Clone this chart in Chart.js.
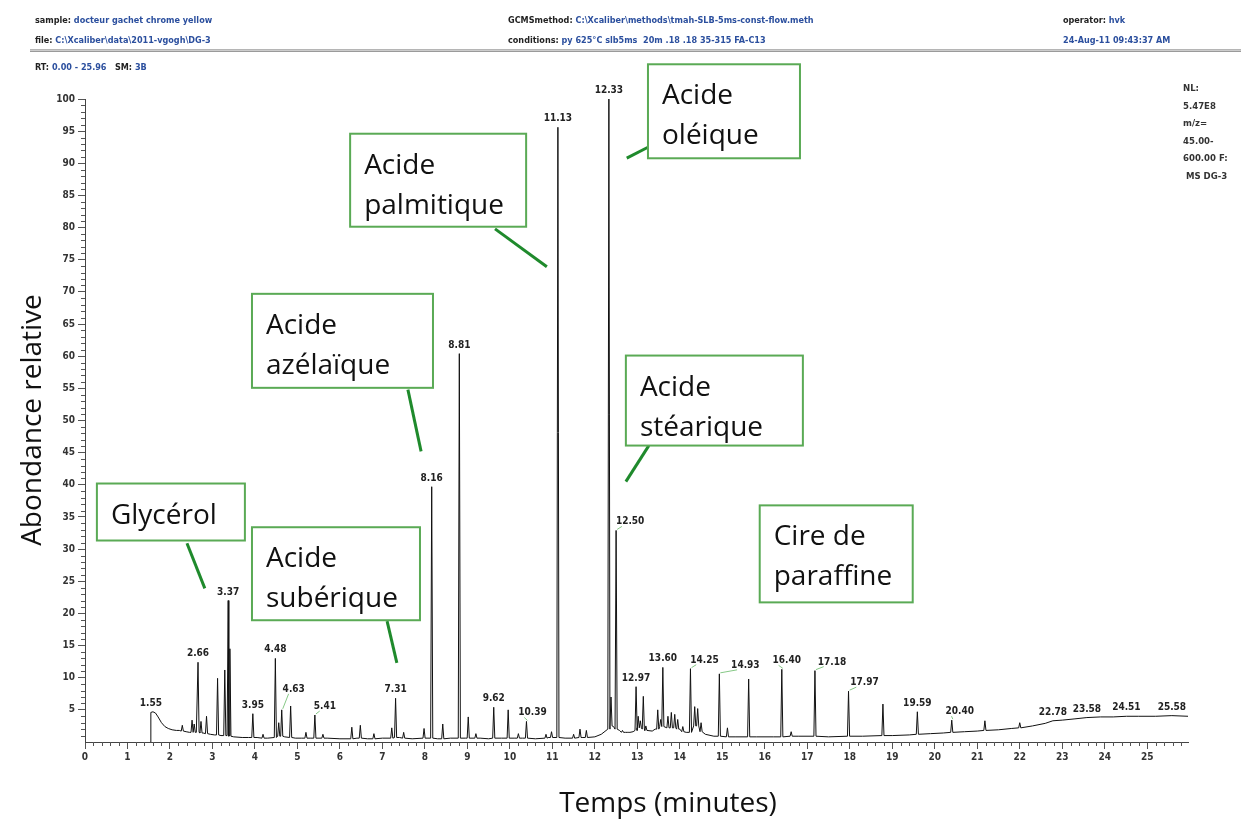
<!DOCTYPE html>
<html>
<head>
<meta charset="utf-8">
<script src="https://cdn.jsdelivr.net/npm/chart.js@4/dist/chart.umd.min.js"></script>
<style>
  html, body { margin: 0; padding: 0; background: #fff; }
  #wrap { position: relative; width: 1241px; height: 826px; overflow: hidden; }
  #chart { position: absolute; left: 0; top: 0; }
  .hd { position: absolute; font: bold 9px "DejaVu Sans Condensed", "DejaVu Sans", sans-serif; color: #222; white-space: pre; line-height: 11px; }
  .hd span { color: #2b4f9e; }
  #rule { position: absolute; left: 30px; top: 49px; width: 1211px; height: 1px; border-top: 1px solid #b5b5b5; border-bottom: 1px solid #9a9a9a; background: #ccc; }
  #nl { position: absolute; left: 1183px; top: 79px; font: bold 9.5px "DejaVu Sans Condensed", "DejaVu Sans", sans-serif; color: #333; line-height: 17.5px; white-space: pre; }
</style>
</head>
<body>
<div id="wrap">
  <canvas id="chart" width="1241" height="826"></canvas>
  <div class="hd" style="left:35px;top:15px">sample: <span>docteur gachet chrome yellow</span></div>
  <div class="hd" style="left:35px;top:35px">file: <span>C:\Xcaliber\data\2011-vgogh\DG-3</span></div>
  <div class="hd" style="left:508px;top:15px">GCMSmethod: <span>C:\Xcaliber\methods\tmah-SLB-5ms-const-flow.meth</span></div>
  <div class="hd" style="left:508px;top:35px">conditions: <span>py 625°C slb5ms  20m .18 .18 35-315 FA-C13</span></div>
  <div class="hd" style="left:1063px;top:15px">operator: <span>hvk</span></div>
  <div class="hd" style="left:1063px;top:35px"><span>24-Aug-11 09:43:37 AM</span></div>
  <div id="rule"></div>
  <div class="hd" style="left:35px;top:62px">RT: <span>0.00 - 25.96</span>   SM: <span>3B</span></div>
  <div id="nl">NL:
5.47E8
m/z=
45.00-
600.00 F:
 MS DG-3</div>
</div>
<script>
// baseline of the trace (minutes, % abundance)
const baseRT = [1.545, 1.55, 1.60, 1.66, 1.72, 1.80, 1.88, 1.96, 2.05, 2.15,
  2.22, 2.38, 2.46, 2.62, 2.78, 2.95, 3.05, 3.20, 3.50, 3.70,
  3.85, 4.05, 4.30, 4.70, 4.95, 5.10, 5.30, 5.70, 6.00, 6.40,
  6.65, 7.00, 7.40, 7.70, 8.05, 8.30, 8.60, 8.95, 9.30, 9.50,
  9.80, 10.10, 10.30, 10.60, 10.90, 11.30, 11.70, 12.00, 12.15, 12.44,
  12.58, 12.72, 12.90, 13.35, 13.42, 14.00, 14.15, 14.60, 14.80, 15.30,
  15.80, 16.20, 16.80, 17.50, 18.30, 19.00, 19.40, 19.90, 20.20, 20.70,
  21.00, 21.50, 21.80, 22.30, 22.60, 22.78, 23.00, 23.30, 23.58, 23.90,
  24.20, 24.51, 24.80, 25.20, 25.58, 25.96];
const baseLevel = [0.0, 4.6, 4.7, 4.5, 3.9, 3.0, 2.4, 2.1, 1.9, 1.8,
  1.8, 1.6, 1.5, 1.5, 1.4, 1.2, 1.1, 1.0, 0.8, 0.7,
  0.7, 0.7, 0.6, 0.8, 0.6, 0.6, 0.6, 0.6, 0.5, 0.6,
  0.5, 0.6, 0.7, 0.5, 0.6, 0.5, 0.6, 0.6, 0.6, 0.5,
  0.6, 0.6, 0.6, 0.5, 0.7, 0.6, 0.7, 0.8, 1.2, 2.4,
  1.8, 1.5, 1.6, 1.7, 2.0, 2.0, 1.5, 1.2, 0.9, 0.8,
  0.8, 0.8, 0.9, 0.8, 0.9, 1.0, 1.1, 1.3, 1.4, 1.6,
  1.7, 1.9, 2.1, 2.5, 2.9, 3.3, 3.4, 3.6, 3.8, 3.9,
  3.9, 4.0, 4.0, 4.0, 4.1, 4.0];

// peaks: retention time, apex, local baseline under the peak
const peakRT = [2.29, 2.52, 2.57, 2.66, 2.73, 2.86, 3.12, 3.29, 3.37, 3.41,
  3.95, 4.19, 4.48, 4.56, 4.63, 4.84, 5.20, 5.41, 5.60, 6.28,
  6.48, 6.80, 7.22, 7.31, 7.50, 7.98, 8.16, 8.42, 8.81, 9.02,
  9.20, 9.62, 9.96, 10.20, 10.39, 10.85, 10.98, 11.13, 11.50, 11.65,
  11.80, 12.33, 12.38, 12.50, 12.65, 12.80, 12.97, 13.02, 13.07, 13.14,
  13.20, 13.48, 13.55, 13.60, 13.72, 13.80, 13.88, 13.95, 14.07, 14.25,
  14.35, 14.42, 14.50, 14.93, 15.12, 15.62, 16.40, 16.62, 17.18, 17.97,
  18.78, 19.59, 20.40, 21.18, 22.00];
const peakTop = [2.6, 3.4, 2.8, 12.4, 3.2, 4.0, 9.9, 11.2, 22.0, 14.5,
  4.4, 1.2, 13.0, 3.0, 5.0, 5.6, 1.5, 4.2, 1.2, 2.3,
  2.6, 1.3, 2.2, 6.8, 1.5, 2.1, 39.7, 2.8, 60.4, 3.9,
  1.3, 5.4, 5.0, 1.3, 3.2, 1.2, 1.6, 95.6, 1.2, 2.0,
  1.8, 100.0, 7.0, 32.9, 1.8, 1.5, 8.6, 4.0, 3.3, 7.1,
  2.5, 5.0, 3.5, 11.6, 4.0, 4.6, 4.3, 3.5, 2.4, 11.4,
  5.5, 5.2, 3.0, 10.6, 2.2, 9.8, 11.3, 1.6, 11.1, 7.9,
  5.9, 4.7, 3.4, 3.3, 3.0];
const peakFoot = [1.7, 1.5, 1.5, 1.5, 1.4, 1.3, 1.1, 1.0, 1.0, 0.9,
  0.7, 0.6, 0.7, 0.9, 0.9, 0.7, 0.6, 0.6, 0.6, 0.5,
  0.6, 0.5, 0.6, 0.7, 0.6, 0.6, 0.6, 0.5, 0.6, 0.6,
  0.6, 0.6, 0.6, 0.6, 0.6, 0.6, 0.7, 0.7, 0.6, 0.7,
  0.7, 2.0, 2.5, 2.0, 1.5, 1.5, 1.8, 2.2, 2.2, 2.0,
  1.8, 2.0, 2.4, 2.4, 2.2, 2.2, 2.2, 2.0, 1.6, 1.5,
  2.5, 2.5, 1.6, 0.9, 0.8, 0.8, 0.8, 0.9, 0.9, 0.9,
  1.0, 1.2, 1.5, 1.8, 2.2];

// retention times printed over the trace
const peakLabels = ['1.55', '2.66', '3.37', '3.95', '4.48', '4.63', '5.41', '7.31', '8.16', '8.81',
  '9.62', '10.39', '11.13', '12.33', '12.50', '12.97', '13.60', '14.25', '14.93', '16.40',
  '17.18', '17.97', '19.59', '20.40', '22.78', '23.58', '24.51', '25.58'];

const xTicks = [0, 1, 2, 3, 4, 5, 6, 7, 8, 9, 10, 11, 12, 13, 14, 15, 16, 17, 18, 19, 20, 21, 22, 23, 24, 25];
const yTicks = [5, 10, 15, 20, 25, 30, 35, 40, 45, 50, 55, 60, 65, 70, 75, 80, 85, 90, 95, 100];

// label nudges (px) for the labels that sit beside their peak with a leader
const labelShift = {
  '4.63': [12, -12], '5.41': [10, 0], '10.39': [6, 0], '12.50': [14, 0], '14.25': [14, 0],
  '14.93': [26, 0], '16.40': [5, 0], '17.18': [17, 0], '17.97': [16, 0], '20.40': [8, 0]
};

// green call-outs, anchored in data units (box: left/top, size in px)
const notes = [
  { lines: ['Glycérol'], at: [0.28, 40.2], w: 148, h: 57, ptr: [2.40, 30.9, 2.82, 23.9] },
  { lines: ['Acide', 'subérique'], at: [3.93, 33.4], w: 168, h: 93, ptr: [7.11, 18.8, 7.34, 12.3] },
  { lines: ['Acide', 'azélaïque'], at: [3.93, 69.7], w: 181, h: 94, ptr: [7.60, 54.8, 7.91, 45.2] },
  { lines: ['Acide', 'palmitique'], at: [6.24, 94.6], w: 176, h: 93, ptr: [9.65, 79.8, 10.87, 73.9] },
  { lines: ['Acide', 'oléique'], at: [13.25, 105.4], w: 152, h: 94, ptr: [13.25, 92.5, 12.75, 90.8] },
  { lines: ['Acide', 'stéarique'], at: [12.73, 60.1], w: 177, h: 90, ptr: [13.27, 46.1, 12.73, 40.5] },
  { lines: ['Cire de', 'paraffine'], at: [15.88, 36.8], w: 153, h: 97, ptr: null }
];

const trace = baseRT.map((t, i) => ({ x: t, y: baseLevel[i] }));
peakRT.forEach((t, i) => {
  trace.push({ x: t - 0.025, y: peakFoot[i] }, { x: t, y: peakTop[i] }, { x: t + 0.025, y: peakFoot[i] });
});
trace.sort((a, b) => a.x - b.x);

function heightAt(rt) {
  let i = peakRT.indexOf(rt);
  if (i >= 0) return peakTop[i];
  i = baseRT.indexOf(rt);
  if (i >= 0) return baseLevel[i];
  return 0;
}

const tickFont = { family: "'DejaVu Sans Condensed', 'DejaVu Sans', sans-serif", size: 10, weight: 'bold' };
const bigFont = "28px 'Open Sans', 'DejaVu Sans', sans-serif";

const extras = {
  id: 'extras',
  afterDraw(chart) {
    const c = chart.ctx, xs = chart.scales.x, ys = chart.scales.y, a = chart.chartArea;
    c.save();

    // minor ticks
    c.strokeStyle = '#555';
    c.lineWidth = 1;
    c.beginPath();
    for (let i = 1; i * 0.2 <= 25.96; i++) {
      if (i % 5 === 0) continue;
      const x = Math.round(xs.getPixelForValue(i * 0.2)) + 0.5;
      c.moveTo(x, a.bottom); c.lineTo(x, a.bottom + 4);
    }
    for (let v = 1; v < 100; v++) {
      if (v % 5 === 0) continue;
      const y = Math.round(ys.getPixelForValue(v)) + 0.5;
      c.moveTo(a.left, y); c.lineTo(a.left - 4, y);
    }
    c.stroke();

    // peak labels
    c.font = "bold 10px 'DejaVu Sans Condensed', 'DejaVu Sans', sans-serif";
    c.textAlign = 'center';
    c.textBaseline = 'alphabetic';
    peakLabels.forEach(txt => {
      const rt = parseFloat(txt);
      const px = xs.getPixelForValue(rt), py = ys.getPixelForValue(heightAt(rt));
      const sh = labelShift[txt] || [0, 0];
      const lx = px + sh[0], ly = py - 6 + sh[1];
      c.fillStyle = '#222';
      c.fillText(txt, lx, ly);
      if (sh[0] > 4) {
        const w = c.measureText(txt).width;
        c.strokeStyle = '#86c886';
        c.beginPath();
        c.moveTo(px + 1, py - 1);
        c.lineTo(lx - w / 2 + 6, ly + 2);
        c.stroke();
      }
    });

    // call-outs
    notes.forEach(n => {
      const bx = xs.getPixelForValue(n.at[0]), by = ys.getPixelForValue(n.at[1]);
      if (n.ptr) {
        c.strokeStyle = '#1f8a2c';
        c.lineWidth = 3;
        c.beginPath();
        c.moveTo(xs.getPixelForValue(n.ptr[0]), ys.getPixelForValue(n.ptr[1]));
        c.lineTo(xs.getPixelForValue(n.ptr[2]), ys.getPixelForValue(n.ptr[3]));
        c.stroke();
      }
      c.fillStyle = '#fff';
      c.fillRect(bx, by, n.w, n.h);
      c.strokeStyle = '#5aaa55';
      c.lineWidth = 2;
      c.strokeRect(bx, by, n.w, n.h);
      c.fillStyle = '#111';
      c.font = bigFont;
      c.textAlign = 'left';
      n.lines.forEach((ln, k) => c.fillText(ln, bx + 14, by + 40 + k * 40));
    });

    // axis titles
    c.fillStyle = '#111';
    c.font = bigFont;
    c.textAlign = 'center';
    c.textBaseline = 'middle';
    c.fillText('Temps (minutes)', 668, 804);
    c.translate(33, 420);
    c.rotate(-Math.PI / 2);
    c.fillText('Abondance relative', 0, 0);
    c.restore();
  }
};

new Chart(document.getElementById('chart'), {
  type: 'line',
  data: {
    datasets: [{
      data: trace,
      borderColor: '#111',
      borderWidth: 1,
      pointRadius: 0,
      tension: 0,
      fill: false
    }]
  },
  options: {
    responsive: false,
    animation: false,
    layout: { padding: { left: 0, top: 99, right: 53, bottom: 54 } },
    plugins: { legend: { display: false }, tooltip: { enabled: false } },
    scales: {
      x: {
        type: 'linear', min: 0, max: 25.96,
        afterBuildTicks: s => { s.ticks = xTicks.map(v => ({ value: v })); },
        afterFit: s => { s.height = 30; },
        ticks: { autoSkip: false, maxRotation: 0, font: tickFont, color: '#333', padding: 2 },
        grid: { drawOnChartArea: false, tickLength: 7, color: '#555' },
        border: { color: '#444', width: 1 }
      },
      y: {
        min: 0, max: 100,
        afterBuildTicks: s => { s.ticks = yTicks.map(v => ({ value: v })); },
        afterFit: s => { s.width = 85; },
        ticks: { autoSkip: false, font: tickFont, color: '#333', padding: 3 },
        grid: { drawOnChartArea: false, tickLength: 7, color: '#555' },
        border: { color: '#444', width: 1 }
      }
    }
  },
  plugins: [extras]
});
</script>
</body>
</html>
